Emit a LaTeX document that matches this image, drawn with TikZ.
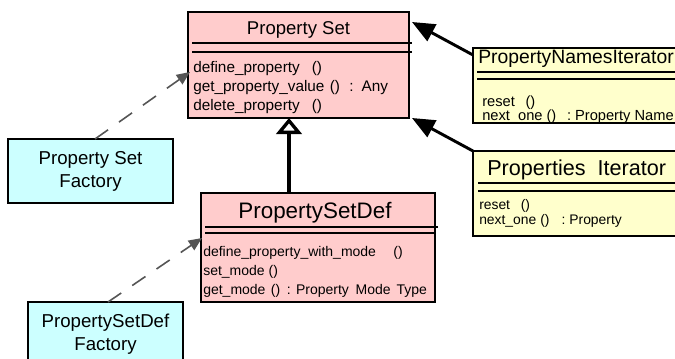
\documentclass[tikz,border=0pt]{standalone}
\usepackage{fontspec}
\setmainfont{Liberation Sans}
\usetikzlibrary{arrows.meta}
\usetikzlibrary{calc}

\definecolor{classPink}{RGB}{255,204,204}
\definecolor{iterYellow}{RGB}{255,255,204}
\definecolor{factCyan}{RGB}{204,255,255}
\definecolor{depGray}{RGB}{85,85,85}

\begin{document}
\begin{tikzpicture}[x=0.75pt,y=0.75pt,yscale=-1,xscale=1,
  classbox/.style={draw, line width=1.5pt, anchor=north west, inner sep=0pt, outer sep=0pt},
  factbox/.style={draw, line width=1.5pt, fill=factCyan, align=center, inner sep=0pt, outer sep=0pt, font=\fontsize{14}{17.25}\selectfont},
  clstitle/.style={anchor=base, inner sep=0pt, font=\fontsize{#1}{#1}\selectfont},
  member/.style={anchor=base west, inner sep=0pt, font=\fontsize{#1}{#1}\selectfont},
  compline/.style={line width=1.5pt},
  genline/.style={line width=2.5pt, -{Triangle[open, length=12pt, width=19pt]}},
  assoc/.style={line width=2.2pt, -{Triangle[length=17pt, width=14pt]}},
  depend/.style={draw=depGray, line width=1.2pt, dash pattern=on 12pt off 10pt, -{Triangle[length=10pt, width=8.5pt]}}]
\useasboundingbox (0,0) rectangle (675,358);
\clip (0,0) rectangle (675,358);

%Shape: Rectangle [Property Set]
\node[classbox, fill=classPink, minimum width=221*0.75pt, minimum height=106*0.75pt] (propSet) at (188,12) {};
\draw[compline] (192,43) -- (412,43);
\draw[compline] (192,52) -- (412,52);
% Text Node
\node[clstitle=13.9] (propSetName) at (298.5,34) {Property Set};
% Text Node
\node[member=11.5] (propSetM1) at (193,72) {define\_property\hspace{9pt}()};
% Text Node
\node[member=11.5] (propSetM2) at (193,91) {get\_property\_value\hspace{4pt}()\hspace{7pt}:\hspace{6pt}Any};
% Text Node
\node[member=11.5] (propSetM3) at (193,110) {delete\_property\hspace{9pt}()};

%Shape: Rectangle [PropertySetDef]
\node[classbox, fill=classPink, minimum width=234*0.75pt, minimum height=109*0.75pt] (propSetDef) at (201,193) {};
\draw[compline] (205,227) -- (438,227);
\draw[compline] (205,233) -- (435,233);
% Text Node
\node[clstitle=16.8] (propSetDefName) at (315,218) {PropertySetDef};
% Text Node
\node[member=10.5] (propSetDefM1) at (203,256) {define\_property\_with\_mode\hspace{13pt}()};
% Text Node
\node[member=10.5] (propSetDefM2) at (203,275) {set\_mode\hspace{3pt}()};
% Text Node
\node[member=10.5] (propSetDefM3) at (203,294) {get\_mode\hspace{4pt}()\hspace{5pt}:\hspace{4pt}Property\hspace{5pt}Mode\hspace{4.5pt}Type};

%Shape: Rectangle [PropertyNamesIterator]
\node[classbox, fill=iterYellow, minimum width=230*0.75pt, minimum height=75*0.75pt] (pnIter) at (473,48) {};
\draw[compline] (477,72) -- (700,72);
\draw[compline] (477,79) -- (700,79);
% Text Node
\node[member=14.5] (pnIterName) at (478,63) {PropertyNamesIterator};
% Text Node
\node[member=11] (pnIterM1) at (482,106) {reset\hspace{8pt}()};
% Text Node
\node[member=11] (pnIterM2) at (482,120) {next\_one\hspace{3pt}()\hspace{8pt}:\hspace{3pt}Property\hspace{3pt}Name};

%Shape: Rectangle [Properties Iterator]
\node[classbox, fill=iterYellow, minimum width=230*0.75pt, minimum height=85*0.75pt] (propIter) at (473,151) {};
\draw[compline] (478,183) -- (700,183);
\draw[compline] (478,191) -- (700,191);
% Text Node
\node[member=16.2] (propIterName) at (487,175) {Properties~~Iterator};
% Text Node
\node[member=10.4] (propIterM1) at (479,209) {reset\hspace{8pt}()};
% Text Node
\node[member=10.4] (propIterM2) at (479,224) {next\_one\hspace{3pt}()\hspace{9pt}:\hspace{3pt}Property};

%Shape: Rectangle [factories]
\node[factbox, minimum width=165*0.75pt, minimum height=64*0.75pt] (psFactory) at (90.5,171) {Property Set\\Factory};
\node[factbox, minimum width=155*0.75pt, minimum height=64*0.75pt] (psdFactory) at (105.5,334) {PropertySetDef\\Factory};

% generalization
\coordinate (genX) at (289,150);
\draw[genline] (genX |- propSetDef.north) -- (genX |- propSet.south);

% associations
\draw[assoc] ($(pnIter.north west)+(0,7)$) -- ($(propSet.north east)+(3,10)$);
\draw[assoc] (propIter.north west) -- ($(propSet.south east)+(3,0)$);

% dependencies
\draw[depend] ($(psFactory.north)+(4.5,0)$) -- ($(propSet.north west)+(2,60)$);
\draw[depend] ($(psdFactory.north)+(2.5,0)$) -- ($(propSetDef.north west)+(1,45)$);

\end{tikzpicture}
\end{document}
